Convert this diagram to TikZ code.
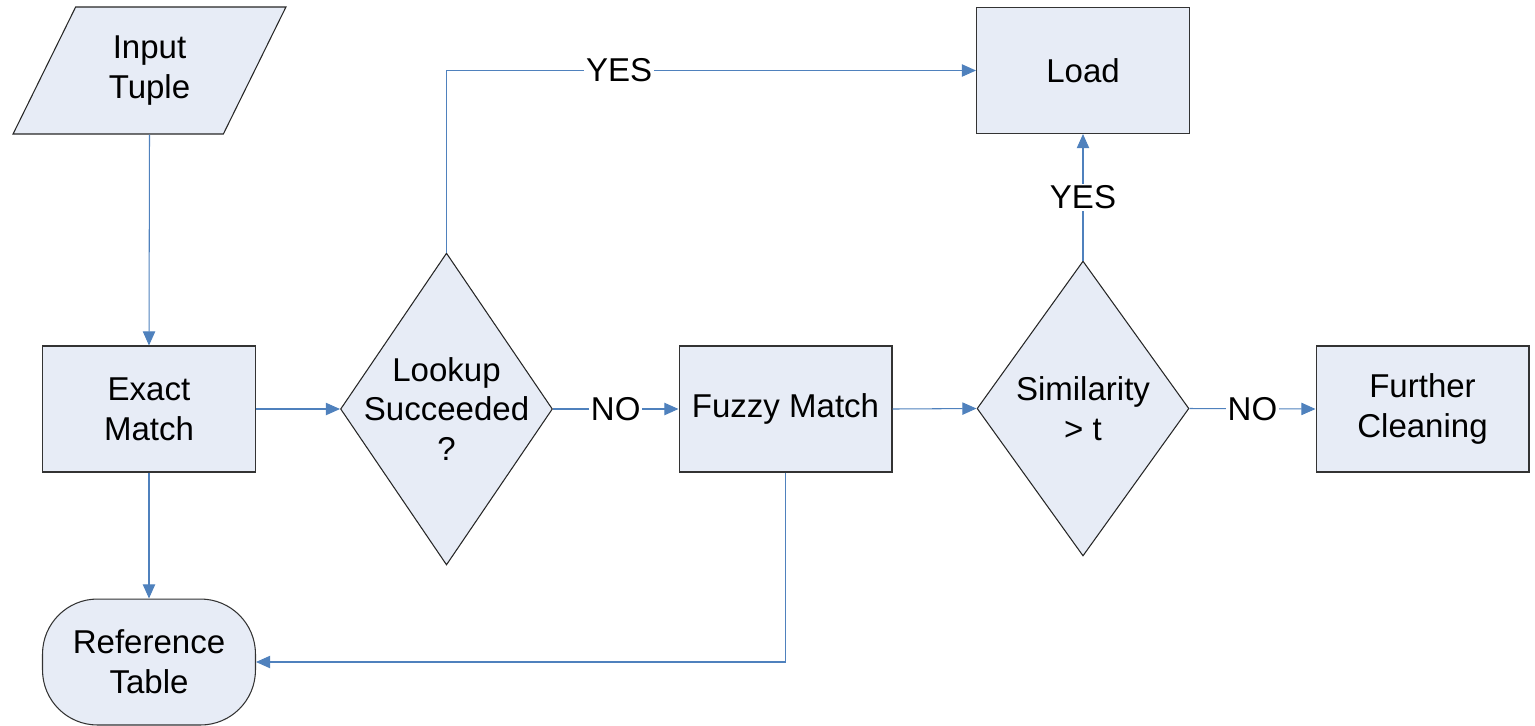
\documentclass[tikz,border=0pt]{standalone}
\usepackage{fontspec}
\setmainfont{Liberation Sans}
\usetikzlibrary{shapes.geometric,arrows.meta}
\definecolor{boxfill}{RGB}{231,236,246}
\definecolor{conn}{RGB}{79,129,189}
\begin{document}
\begin{tikzpicture}[x=0.02cm,y=-0.02cm,
  every node/.style={font=\fontsize{18.8}{22.7}\selectfont, align=center},
  procbox/.style={draw=black!80, line width=0.6pt, fill=boxfill, rectangle,
    minimum width=4.26cm, minimum height=2.52cm, inner sep=0pt},
  decide/.style={draw=black!85, line width=0.6pt, fill=boxfill, diamond,
    inner sep=0pt},
  link/.style={draw=conn, line width=0.6pt, -{Triangle[length=8pt,width=7pt]}},
  lbl/.style={fill=white, inner sep=1pt}
]
\useasboundingbox (0,0) rectangle (1535,725);
\node[draw=black!85, line width=0.6pt, fill=boxfill, trapezium,
  trapezium left angle=63.6, trapezium right angle=116.4, trapezium stretches=true,
  minimum width=5.5cm, minimum height=2.54cm, inner sep=0pt]
  (in) at (149.5,70.5) {Input\\Tuple};
\node[procbox] (em) at (149,409) {Exact\\Match};
\node[decide, minimum width=4.24cm, minimum height=6.24cm,
  label={[align=center]center:Lookup\\Succeeded\\?}] (lk) at (446.5,409) {};
\node[procbox] (fz) at (785.5,409) {Fuzzy Match};
\node[decide, minimum width=4.24cm, minimum height=5.9cm,
  label={[align=center]center:Similarity\\> t}] (sim) at (1083,408.5) {};
\node[procbox] (fc) at (1422.5,409) {Further\\Cleaning};
\node[procbox] (ld) at (1083,70.5) {Load};
\node[procbox, rounded corners=1.1cm] (rt) at (149,662) {Reference\\Table};

\draw[link] (in.center |- in.south) -- (em.north);
\draw[link] (em.east) -- (lk.west);
\draw[link] (lk.east) -- node[lbl] {NO} (fz.west);
\draw[link] (lk.north) |- node[lbl, pos=0.663] {YES} (ld.west);
\draw[link] (fz.east) -- (sim.west);
\draw[link] (sim.east) -- node[lbl] {NO} (fc.west);
\draw[link] (sim.north) -- node[lbl] {YES} (ld.south);
\draw[link] (em.south) -- (rt.north);
\draw[link] (fz.south) |- (rt.east);
\end{tikzpicture}
\end{document}
